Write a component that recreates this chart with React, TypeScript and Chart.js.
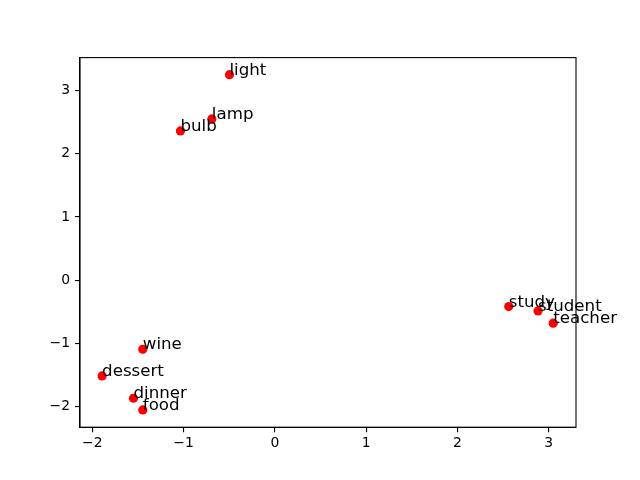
import React, { useEffect, useRef } from "react";
import { Chart, registerables } from "chart.js";

Chart.register(...registerables);

const words = ["light", "lamp", "bulb", "study", "student", "teacher", "wine", "dessert", "dinner", "food"];
const xValues = [-0.497, -0.69, -1.034, 2.563, 2.884, 3.05, -1.447, -1.893, -1.549, -1.447];
const yValues = [3.25, 2.55, 2.36, -0.418, -0.486, -0.68, -1.092, -1.514, -1.867, -2.052];
const xTicks = [-2, -1, 0, 1, 2, 3];
const yTicks = [-2, -1, 0, 1, 2, 3];

const fmt = (v: number) => (v < 0 ? "\u2212" + Math.abs(v) : String(v));

export default function App() {
  const ref = useRef<HTMLCanvasElement | null>(null);
  useEffect(() => {
    if (!ref.current) return;
    const points = xValues.map((x, i) => ({ x, y: yValues[i] }));
    const framePlugin = {
      id: "frameAndLabels",
      afterDatasetsDraw(chart: any) {
        const { ctx, chartArea, scales } = chart;
        ctx.save();
        ctx.strokeStyle = "#000";
        ctx.lineWidth = 1.1;
        ctx.strokeRect(chartArea.left, chartArea.top, chartArea.right - chartArea.left, chartArea.bottom - chartArea.top);
        ctx.fillStyle = "#000";
        ctx.font = "16.67px 'DejaVu Sans'";
        ctx.textAlign = "left";
        ctx.textBaseline = "alphabetic";
        words.forEach((w, i) => {
          const px = scales.x.getPixelForValue(xValues[i]);
          const py = scales.y.getPixelForValue(yValues[i]);
          ctx.fillText(w, px, py);
        });
        ctx.restore();
      },
    };
    const chart = new Chart(ref.current, {
      type: "scatter",
      data: {
        datasets: [
          {
            data: points,
            backgroundColor: "#ff0000",
            borderColor: "#ff0000",
            borderWidth: 0,
            pointRadius: 4.6,
            pointHoverRadius: 4.6,
          },
        ],
      },
      options: {
        animation: false,
        responsive: false,
        events: [],
        layout: { padding: { left: 0, top: 57.6, right: 64, bottom: 0 } },
        plugins: { legend: { display: false }, tooltip: { enabled: false } },
        scales: {
          x: {
            type: "linear",
            min: -2.135,
            max: 3.3,
            afterBuildTicks: (s: any) => {
              s.ticks = xTicks.map((v) => ({ value: v }));
            },
            afterFit: (s: any) => {
              s.height = 52.8;
            },
            ticks: {
              color: "#000",
              font: { family: "'DejaVu Sans'", size: 13.9 },
              padding: 3,
              maxRotation: 0,
              callback: (v: any) => fmt(Number(v)),
            },
            grid: {
              display: true,
              drawOnChartArea: false,
              drawTicks: true,
              tickLength: 5,
              color: "#000",
              lineWidth: 1.1,
            },
            border: { display: true, color: "#000", width: 1.1 },
          },
          y: {
            type: "linear",
            min: -2.325,
            max: 3.52,
            afterBuildTicks: (s: any) => {
              s.ticks = yTicks.map((v) => ({ value: v }));
            },
            afterFit: (s: any) => {
              s.width = 80;
            },
            ticks: {
              color: "#000",
              font: { family: "'DejaVu Sans'", size: 13.9 },
              padding: 5,
              callback: (v: any) => fmt(Number(v)),
            },
            grid: {
              display: true,
              drawOnChartArea: false,
              drawTicks: true,
              tickLength: 5,
              color: "#000",
              lineWidth: 1.1,
            },
            border: { display: true, color: "#000", width: 1.1 },
          },
        },
      },
      plugins: [framePlugin],
    });
    return () => chart.destroy();
  }, []);
  return (
    <div style={{ position: "fixed", left: 0, top: 0, width: 640, height: 480, background: "#fff" }}>
      <canvas ref={ref} width={640} height={480} style={{ width: 640, height: 480 }} />
    </div>
  );
}
